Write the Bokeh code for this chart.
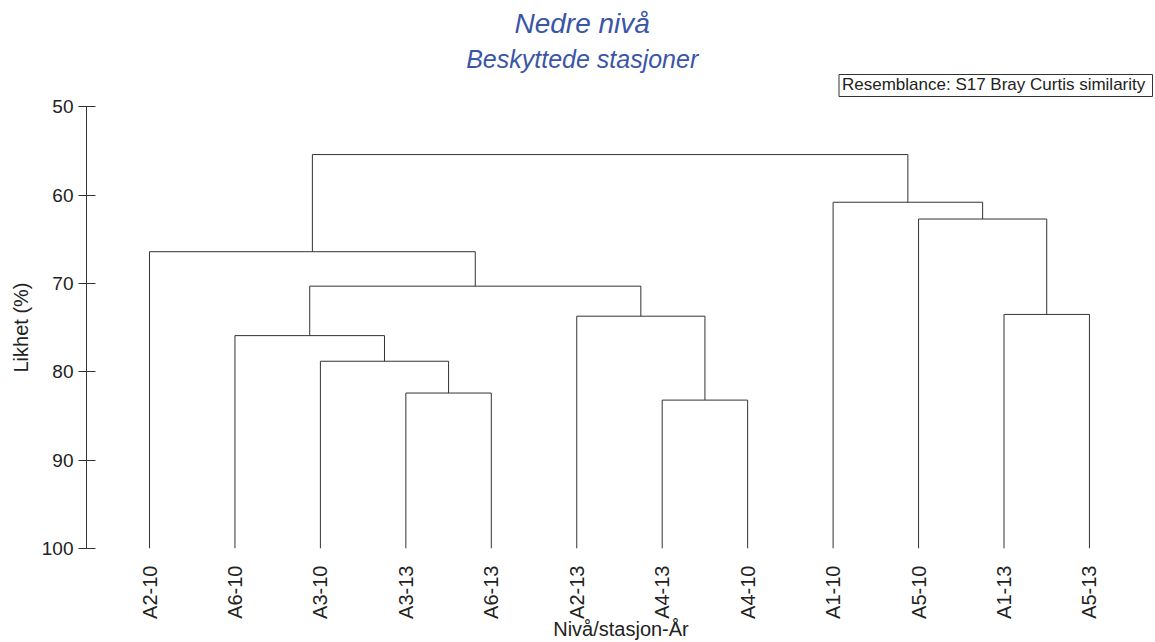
import math

from bokeh.embed import file_html
from bokeh.models import (BoxAnnotation, FixedTicker, Label, Range1d, Title)
from bokeh.plotting import figure
from bokeh.resources import INLINE

# ---- data -------------------------------------------------------------
leaf_labels = ["A2-10", "A6-10", "A3-10", "A3-13", "A6-13", "A2-13",
               "A4-13", "A4-10", "A1-10", "A5-10", "A1-13", "A5-13"]

# Agglomeration steps (leaves are 0..11, new clusters get 12, 13, ...)
merge_left = [3, 6, 10, 2, 1, 5, 16, 0, 9, 8, 19]
merge_right = [4, 7, 11, 12, 15, 13, 17, 18, 14, 20, 21]
merge_similarity = [82.4, 83.2, 73.5, 78.8, 75.9, 73.7, 70.3, 66.4, 62.7, 60.8, 55.4]

y_ticks = [50, 60, 70, 80, 90, 100]

# ---- layout helpers ----------------------------------------------------
W, H = 1155, 642
FRAME_LEFT, FRAME_BOTTOM = 86, 548
LEAF0_PX, LEAF_STEP_PX = 149, 85.45
PX_PER_UNIT = 8.833


def x_of(px):
    return (px - LEAF0_PX) / LEAF_STEP_PX


def y_of(py):
    return 100 - (FRAME_BOTTOM - py) / PX_PER_UNIT


FONT = "Liberation Sans"
TEXT = "#222222"
LINE = "#333333"
BLUE = "#3b56a6"

p = figure(width=W, height=H, output_backend="svg", toolbar_location=None,
           title=None,
           x_range=Range1d(x_of(FRAME_LEFT), x_of(W)),
           y_range=Range1d(100, y_of(0)),
           min_border=0, min_border_left=FRAME_LEFT,
           min_border_bottom=H - FRAME_BOTTOM, min_border_right=0,
           min_border_top=0)
p.outline_line_color = None
p.xgrid.visible = False
p.ygrid.visible = False
p.background_fill_color = "white"
p.border_fill_color = "white"

# ---- dendrogram --------------------------------------------------------
node_x = list(range(len(leaf_labels)))
node_h = [100.0] * len(leaf_labels)
xs, ys = [], []
for a, b, s in zip(merge_left, merge_right, merge_similarity):
    xa, xb = node_x[a], node_x[b]
    xs.append([xa, xa, xb, xb])
    ys.append([node_h[a], s, s, node_h[b]])
    node_x.append((xa + xb) / 2)
    node_h.append(s)

p.multi_line(xs, ys, line_color=LINE, line_width=1)

# ---- axes --------------------------------------------------------------
yax = p.yaxis[0]
yax.ticker = FixedTicker(ticks=y_ticks)
yax.bounds = (50, 100)
yax.minor_tick_line_color = None
yax.major_tick_in = 9
yax.major_tick_out = 8
yax.axis_line_color = LINE
yax.major_tick_line_color = LINE
yax.major_label_text_font = FONT
yax.major_label_text_font_size = "19px"
yax.major_label_text_color = TEXT
yax.major_label_standoff = 5

# y-axis title, placed along the 50-100 span
p.add_layout(Title(text="Likhet (%)", align="left", offset=FRAME_BOTTOM - 372,
                   standoff=14, text_font=FONT, text_font_style="normal",
                   text_font_size="20px", text_color=TEXT), "left")

xax = p.xaxis[0]
xax.ticker = FixedTicker(ticks=list(range(len(leaf_labels))))
xax.major_label_overrides = {i: t for i, t in enumerate(leaf_labels)}
xax.major_label_orientation = math.pi / 2
xax.axis_line_color = None
xax.major_tick_line_color = None
xax.minor_tick_line_color = None
xax.major_label_standoff = 11
xax.major_label_text_font = FONT
xax.major_label_text_font_size = "20px"
xax.major_label_text_color = TEXT
xax.axis_label = "Nivå/stasjon-År"
xax.axis_label_text_font = FONT
xax.axis_label_text_font_style = "normal"
xax.axis_label_text_font_size = "20px"
xax.axis_label_text_color = TEXT
xax.axis_label_standoff = -4

# ---- titles ------------------------------------------------------------
p.add_layout(Label(x=x_of(581.7), y=y_of(22.5), text="Nedre nivå",
                   text_align="center", text_baseline="middle",
                   text_font=FONT, text_font_style="italic",
                   text_font_size="28px", text_color=BLUE))
p.add_layout(Label(x=x_of(581.7), y=y_of(58.3), text="Beskyttede stasjoner",
                   text_align="center", text_baseline="middle",
                   text_font=FONT, text_font_style="italic",
                   text_font_size="25px", text_color=BLUE))

# ---- resemblance note --------------------------------------------------
p.add_layout(BoxAnnotation(left=x_of(838.5), right=x_of(1152),
                           top=y_of(74), bottom=y_of(96),
                           fill_color="white", fill_alpha=1,
                           line_color=LINE, line_alpha=1, line_width=1))
p.add_layout(Label(x=x_of(841.5), y=y_of(84), text="Resemblance: S17 Bray Curtis similarity",
                   text_align="left", text_baseline="middle",
                   text_font=FONT, text_font_size="17px", text_color=TEXT))

open("out.html", "w").write(file_html(p, INLINE))
